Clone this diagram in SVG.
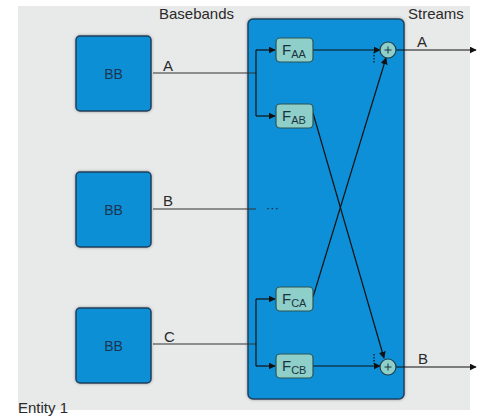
<svg xmlns="http://www.w3.org/2000/svg" width="488" height="416" viewBox="0 0 488 416">
<defs>
<marker id="ar" viewBox="0 0 10 10" refX="9" refY="5" markerWidth="7" markerHeight="7" markerUnits="userSpaceOnUse" orient="auto"><path d="M0,0 L10,5 L0,10 z" fill="#111"/></marker>
<filter id="sh" x="-10%" y="-10%" width="120%" height="120%"><feDropShadow dx="0" dy="0" stdDeviation="1.5" flood-color="#777" flood-opacity="0.7"/></filter>
</defs>
<style>
.lbl{font-family:"Liberation Sans",Arial,sans-serif;font-size:15px;fill:#2a2a2a}
.bb{fill:#0a8fd6;stroke:#1d3f5c;stroke-width:1.5}
.bbt{font-family:"Liberation Sans",Arial,sans-serif;font-size:14px;fill:#1b3550;text-anchor:middle}
.f{fill:#8ecfc9;stroke:#2b5555;stroke-width:1.2}
.ft{font-family:"Liberation Sans",Arial,sans-serif;font-size:15px;fill:#1b3340}
.sub{font-size:11px}
.ln{stroke:#333;stroke-width:1.2;fill:none}
.lk{stroke:#111;stroke-width:1.2;fill:none}
.sum{fill:#8ecfc9;stroke:#1d3f4a;stroke-width:1.2}
</style>
<rect x="18" y="6" width="452" height="404" fill="#e8e9e9"/>
<text class="lbl" x="159" y="19">Basebands</text>
<text class="lbl" x="408" y="19">Streams</text>
<text class="lbl" x="18" y="413">Entity 1</text>

<g id="bbA"><rect class="bb" x="76" y="36" width="75" height="75" rx="4" filter="url(#sh)"/><text class="bbt" x="113.5" y="79">BB</text></g>
<g id="bbB"><rect class="bb" x="76" y="172" width="75" height="75" rx="4" filter="url(#sh)"/><text class="bbt" x="113.5" y="215">BB</text></g>
<g id="bbC"><rect class="bb" x="76" y="308" width="75" height="75" rx="4" filter="url(#sh)"/><text class="bbt" x="113.5" y="351">BB</text></g>

<g id="proc"><rect x="248" y="19" width="156" height="380" rx="5" fill="#0a90d8" stroke="#1b4060" stroke-width="1.5" filter="url(#sh)"/></g>

<g id="connectors">
<path class="ln" d="M153,73 H256"/>
<path class="ln" d="M153,209 H256"/>
<path class="ln" d="M153,344 H256"/>
<path class="lk" d="M256,50 V116"/>
<path class="lk" d="M256,50 H275" marker-end="url(#ar)"/>
<path class="lk" d="M256,116 H275" marker-end="url(#ar)"/>
<path class="lk" d="M256,299 V366"/>
<path class="lk" d="M256,299 H275" marker-end="url(#ar)"/>
<path class="lk" d="M256,366 H275" marker-end="url(#ar)"/>
<path class="lk" d="M313,50 H380" marker-end="url(#ar)"/>
<path class="lk" d="M313,366 H380" marker-end="url(#ar)"/>
<path class="lk" d="M313,113 L384,358" marker-end="url(#ar)"/>
<path class="lk" d="M313,297 L386,58" marker-end="url(#ar)"/>
<path d="M374,52 V63" stroke="#111" stroke-width="1.2" stroke-dasharray="1.5,1.5"/>
<path d="M374,354 V364" stroke="#111" stroke-width="1.2" stroke-dasharray="1.5,1.5"/>
<path class="lk" d="M396,50 H476" marker-end="url(#ar)"/>
<path class="lk" d="M396,367 H476" marker-end="url(#ar)"/>
<text class="lbl" x="163" y="71">A</text>
<text class="lbl" x="163" y="206">B</text>
<text class="lbl" x="164" y="342">C</text>
<text class="lbl" x="417" y="47">A</text>
<text class="lbl" x="418" y="364">B</text>
<text x="266" y="212" font-family="Liberation Sans,Arial,sans-serif" font-size="13" fill="#222">···</text>
</g>

<g id="fAA"><rect class="f" x="276" y="38" width="37" height="24" rx="4"/><text class="ft" x="282" y="55">F<tspan class="sub" dy="3">AA</tspan></text></g>
<g id="fAB"><rect class="f" x="276" y="104" width="37" height="24" rx="4"/><text class="ft" x="282" y="121">F<tspan class="sub" dy="3">AB</tspan></text></g>
<g id="fCA"><rect class="f" x="276" y="287" width="37" height="24" rx="4"/><text class="ft" x="282" y="304">F<tspan class="sub" dy="3">CA</tspan></text></g>
<g id="fCB"><rect class="f" x="276" y="354" width="37" height="24" rx="4"/><text class="ft" x="282" y="371">F<tspan class="sub" dy="3">CB</tspan></text></g>

<g id="sumA"><circle class="sum" cx="388" cy="50" r="8"/><path d="M384.5,50 H391.5 M388,46.5 V53.5" stroke="#1b3340" stroke-width="1"/></g>
<g id="sumB"><circle class="sum" cx="388" cy="367" r="8"/><path d="M384.5,367 H391.5 M388,363.5 V370.5" stroke="#1b3340" stroke-width="1"/></g>
</svg>
